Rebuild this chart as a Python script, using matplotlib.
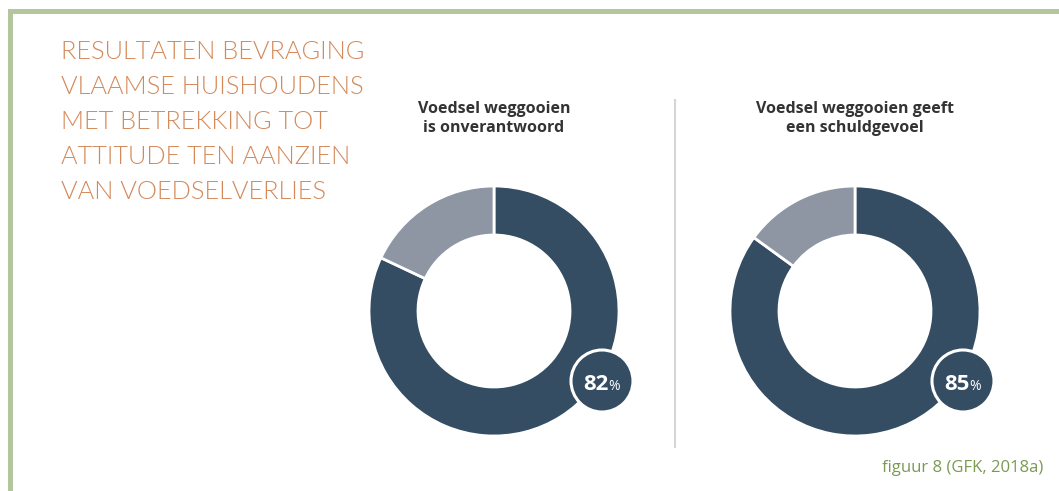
import matplotlib
matplotlib.use("Agg")
import matplotlib.pyplot as plt
from matplotlib.patches import Rectangle, Circle

# chart data
heading = ["RESULTATEN BEVRAGING", "VLAAMSE HUISHOUDENS", "MET BETREKKING TOT",
           "ATTITUDE TEN AANZIEN", "VAN VOEDSELVERLIES"]
titles = ["Voedsel weggooien\nis onverantwoord", "Voedsel weggooien geeft\neen schuldgevoel"]
agree = [82, 85]
rest = [18, 15]
source = "figuur 8 (GFK, 2018a)"

DARK = "#344d63"
GREY = "#8f96a3"
GREEN = "#b5c69e"
ORANGE = "#d4895a"

W, H = 1059, 491
fig = plt.figure(figsize=(W / 100, H / 100), dpi=100)
ax = fig.add_axes([0, 0, 1, 1])

def py(y):
    # pixel row (from top) to axis coordinate
    return H - y

centers = [(494, 311), (855, 311)]
R, ring = 125, 49
for (cx, cy), a, r, t in zip(centers, agree, rest, titles):
    ax.pie([a, r], colors=[DARK, GREY], center=(cx, py(cy)), radius=R,
           startangle=90, counterclock=False,
           wedgeprops=dict(width=ring, edgecolor="white", linewidth=2))
    ax.text(cx, py(101), t, ha="center", va="top", fontsize=11.5,
            fontweight="bold", family="Open Sans", color="#333333", linespacing=1.25)
    bx, by = cx + 108, cy + 70
    ax.add_patch(Circle((bx, py(by)), 31, facecolor=DARK, edgecolor="white",
                        linewidth=2.2, zorder=5))
    ax.text(bx + 7, py(by + 9), str(a), ha="right", va="baseline", fontsize=16,
            fontweight="bold", family="Open Sans", color="white", zorder=6)
    ax.text(bx + 6, py(by + 9), "%", ha="left", va="baseline", fontsize=10,
            family="Open Sans", color="white", zorder=6)

ax.set_xlim(0, W)
ax.set_ylim(0, H)
ax.set_aspect("auto")
ax.axis("off")

# frame lines
ax.add_patch(Rectangle((8, py(14)), W - 8, 5, facecolor=GREEN, edgecolor="none"))
ax.add_patch(Rectangle((8, 0), 5, py(9), facecolor=GREEN, edgecolor="none"))

# separator
ax.plot([675, 675], [py(100), py(447)], color="#d5d5d5", linewidth=1.5)

ax.text(61, py(40), "\n".join(heading), ha="left", va="top", fontsize=18.3,
        family="Lato", fontweight=300, color=ORANGE, linespacing=1.58)

ax.text(1043, py(468), source, ha="right", va="center", fontsize=12,
        family="Open Sans", color="#7a9a52")

fig.savefig("out.png", dpi=100)
